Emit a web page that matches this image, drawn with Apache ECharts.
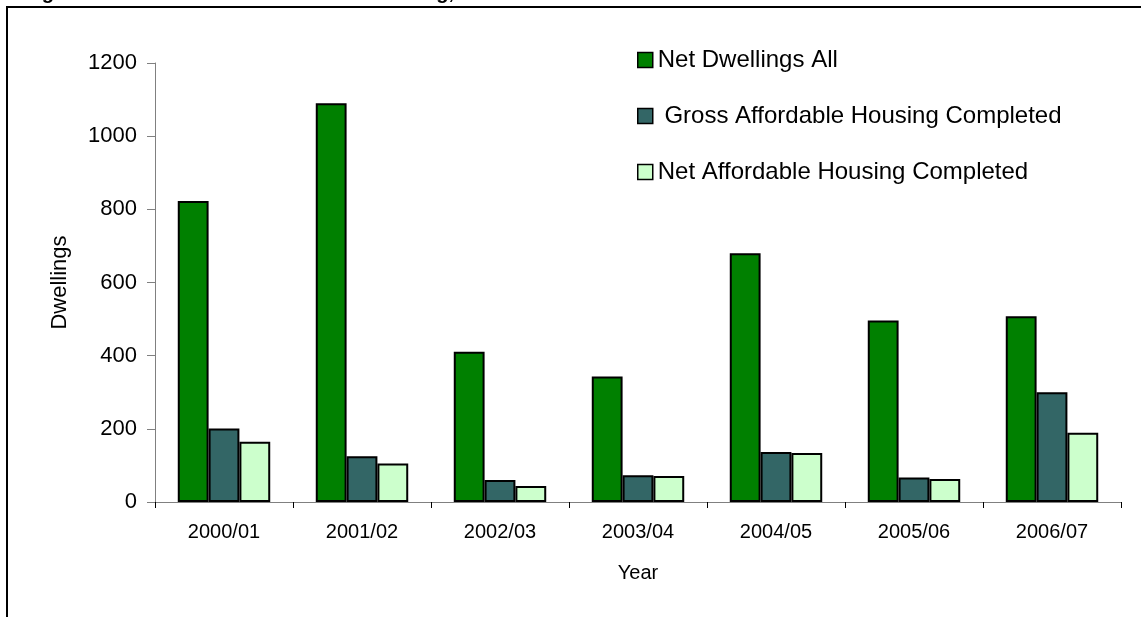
<!DOCTYPE html>
<html>
<head>
<meta charset="utf-8">
<script src="https://cdn.jsdelivr.net/npm/echarts@6/dist/echarts.min.js"></script>
<style>
  html, body { margin: 0; padding: 0; background: #ffffff; }
  #chart { width: 1141px; height: 617px; }
</style>
</head>
<body>
<div id="chart"></div>
<script>
// Housing completions by financial year
const years = ['2000/01', '2001/02', '2002/03', '2003/04', '2004/05', '2005/06', '2006/07'];
const netDwellingsAll = [823, 1090, 411, 343, 680, 496, 508];
const grossAffordable = [201, 125, 60, 73, 137, 67, 300];
const netAffordable = [165, 105, 44, 71, 134, 63, 189];
const seriesNames = ['Net Dwellings All', ' Gross Affordable Housing Completed', 'Net Affordable Housing Completed'];
const seriesColors = ['#008000', '#336666', '#CCFFCC'];

const FONT = 'Liberation Sans, Arial, sans-serif';
const chart = echarts.init(document.getElementById('chart'), null, { renderer: 'canvas' });

const barStyle = (color) => ({ color: color, borderColor: '#000000', borderWidth: 2 });

chart.setOption({
  animation: false,
  backgroundColor: '#ffffff',
  graphic: [
    // frame around the figure
    { type: 'rect', shape: { x: 7, y: 7, width: 1300, height: 800 },
      style: { fill: 'none', stroke: '#000000', lineWidth: 2 }, z: 100 },
    // figure heading, running off the top edge
    { type: 'text', x: 24, y: 3, style: { text: 'Figure', font: 'bold 20px ' + FONT, fill: '#000', verticalAlign: 'bottom' } },
    { type: 'text', x: 263, y: 3, style: { text: 'Affordable Housing, 2000-2007', font: 'bold 20px ' + FONT, fill: '#000', verticalAlign: 'bottom' } }
  ],
  legend: {
    orient: 'vertical',
    left: 632,
    top: 43,
    itemWidth: 15,
    itemHeight: 15,
    itemGap: 32,
    icon: 'rect',
    data: seriesNames,
    textStyle: { fontFamily: FONT, fontSize: 24, color: '#000000' },
    itemStyle: { borderColor: '#000000', borderWidth: 1.5 }
  },
  grid: { left: 155, right: 20, top: 63, bottom: 115 },
  xAxis: {
    type: 'category',
    data: years,
    name: 'Year',
    nameLocation: 'middle',
    nameGap: 61,
    nameTextStyle: { fontFamily: FONT, fontSize: 20, color: '#000000' },
    axisLine: { lineStyle: { color: '#808080', width: 1 } },
    axisTick: { show: true, length: 6, lineStyle: { color: '#000000' } },
    axisLabel: { fontFamily: FONT, fontSize: 20, color: '#000000', margin: 20 }
  },
  yAxis: {
    type: 'value',
    min: 0,
    max: 1200,
    interval: 200,
    name: 'Dwellings',
    nameLocation: 'middle',
    nameGap: 84,
    nameTextStyle: { fontFamily: FONT, fontSize: 22, color: '#000000' },
    axisLine: { show: true, lineStyle: { color: '#808080', width: 1 } },
    axisTick: { show: true, length: 8, lineStyle: { color: '#808080' } },
    splitLine: { show: false },
    axisLabel: { fontFamily: FONT, fontSize: 22, color: '#000000', margin: 18, formatter: (v) => String(v) }
  },
  series: [
    { name: seriesNames[0], type: 'bar', data: netDwellingsAll, itemStyle: barStyle(seriesColors[0]), barGap: '0%', barCategoryGap: '33%' },
    { name: seriesNames[1], type: 'bar', data: grossAffordable, itemStyle: barStyle(seriesColors[1]), barGap: '0%', barCategoryGap: '33%' },
    { name: seriesNames[2], type: 'bar', data: netAffordable, itemStyle: barStyle(seriesColors[2]), barGap: '0%', barCategoryGap: '33%' }
  ]
});
</script>
</body>
</html>
